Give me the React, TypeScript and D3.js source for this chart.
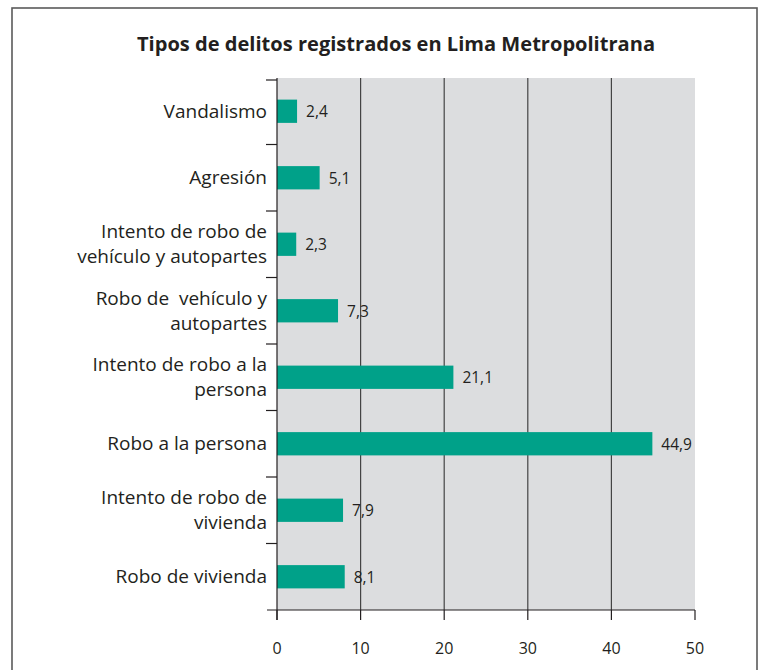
import React from "react";
import * as d3 from "d3";

const categories: string[][] = [
  ["Vandalismo"],
  ["Agresión"],
  ["Intento de robo de", "vehículo y autopartes"],
  ["Robo de  vehículo y", "autopartes"],
  ["Intento de robo a la", "persona"],
  ["Robo a la persona"],
  ["Intento de robo de", "vivienda"],
  ["Robo de vivienda"],
];
const values: number[] = [2.4, 5.1, 2.3, 7.3, 21.1, 44.9, 7.9, 8.1];
const valueLabels: string[] = ["2,4", "5,1", "2,3", "7,3", "21,1", "44,9", "7,9", "8,1"];
const xTicks: number[] = [0, 10, 20, 30, 40, 50];
const title = "Tipos de delitos registrados en Lima Metropolitrana";

const W = 767;
const H = 670;
const plot = { left: 277, right: 695, top: 78, bottom: 610 };
const FONT = "'Open Sans', 'Noto Sans', sans-serif";

export default function App() {
  const x = d3.scaleLinear().domain([0, 50]).range([plot.left, plot.right]);
  const idx = categories.map((_, i) => String(i));
  const y = d3.scaleBand().domain(idx).range([plot.top, plot.bottom]).paddingInner(0.65).paddingOuter(0.325);
  const yb = d3.scaleBand().domain(idx).range([plot.top, plot.bottom]);
  const bounds = d3.range(categories.length + 1).map((i) => plot.top + i * yb.step());

  return (
    <div style={{ position: "absolute", left: 0, top: 0 }}>
      <svg width={W} height={H} style={{ display: "block", background: "#fff" }}>
        <rect x={12} y={8} width={745} height={H + 10} fill="none" stroke="#5a5a5a" strokeWidth={1.6} />
        <text x={396} y={51} textAnchor="middle" fontFamily={FONT} fontWeight={700} fontSize={20} fill="#231f20" textLength={518} lengthAdjust="spacingAndGlyphs">
          {title}
        </text>
        <rect x={plot.left} y={plot.top} width={plot.right - plot.left} height={plot.bottom - plot.top} fill="#dcdddf" />
        {xTicks.slice(1, -1).map((t) => (
          <line key={"g" + t} x1={x(t)} x2={x(t)} y1={plot.top} y2={plot.bottom} stroke="#444" strokeWidth={1.2} />
        ))}
        {values.map((v, i) => (
          <rect key={"b" + i} x={x(0)} y={y(String(i))} width={x(v) - x(0)} height={y.bandwidth()} fill="#00a189" />
        ))}
        {values.map((v, i) => (
          <text key={"v" + i} x={x(v) + 9} y={(y(String(i)) as number) + y.bandwidth() / 2} dy="0.38em" fontFamily={FONT} fontSize={15.5} fill="#231f20">
            {valueLabels[i]}
          </text>
        ))}
        <line x1={plot.left} x2={plot.left} y1={plot.top} y2={plot.bottom + 10} stroke="#231f20" strokeWidth={1.2} />
        {bounds.slice(0, -1).map((b, i) => (
          <line key={"t" + i} x1={plot.left - 11} x2={plot.left} y1={b + (i === 0 ? 2 : 0)} y2={b + (i === 0 ? 2 : 0)} stroke="#231f20" strokeWidth={1.2} />
        ))}
        <line x1={plot.left - 10} x2={plot.right} y1={plot.bottom} y2={plot.bottom} stroke="#231f20" strokeWidth={1.2} />
        {xTicks.map((t) => (
          <line key={"xt" + t} x1={x(t)} x2={x(t)} y1={plot.bottom} y2={plot.bottom + 10} stroke="#231f20" strokeWidth={1.2} />
        ))}
        {xTicks.map((t) => (
          <text key={"xl" + t} x={x(t)} y={654} textAnchor="middle" fontFamily={FONT} fontSize={16} fill="#231f20">
            {t}
          </text>
        ))}
        {categories.map((lines, i) => {
          const cy = (yb(String(i)) as number) + yb.bandwidth() / 2;
          const lh = 25;
          const y0 = cy - ((lines.length - 1) * lh) / 2;
          return (
            <text key={"c" + i} textAnchor="end" fontFamily={FONT} fontSize={19} fill="#231f20" style={{ whiteSpace: "pre" }}>
              {lines.map((l, j) => (
                <tspan key={j} x={267} y={y0 + j * lh} dy="0.35em">
                  {l}
                </tspan>
              ))}
            </text>
          );
        })}
      </svg>
    </div>
  );
}
